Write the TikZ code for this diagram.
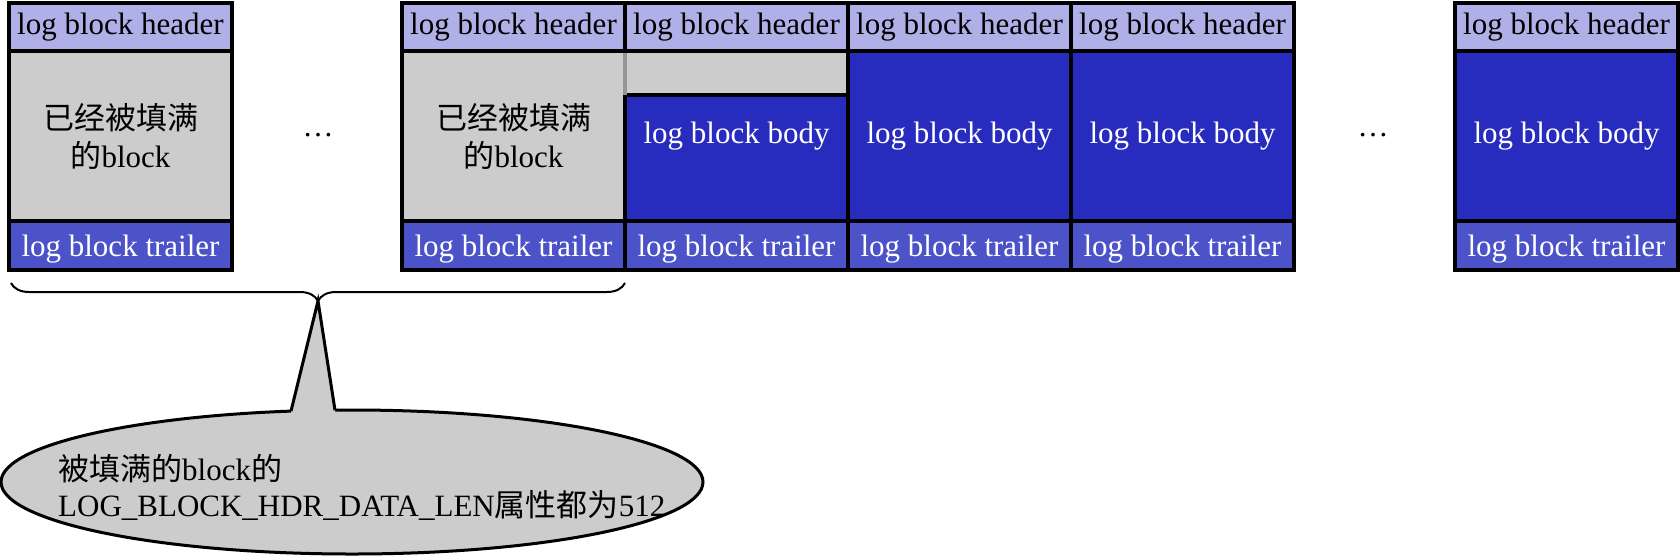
\documentclass[tikz,border=0pt]{standalone}
\usepackage{fontspec}
\setmainfont{Liberation Serif}
\newfontfamily\cjk{Noto Sans CJK SC}
\usetikzlibrary{decorations.pathreplacing,calc,shapes.geometric}
\definecolor{hdrc}{RGB}{176,176,232}
\definecolor{bodyc}{RGB}{40,44,190}
\definecolor{trlc}{RGB}{76,82,200}
\definecolor{grayc}{RGB}{204,204,204}
\definecolor{edgec}{RGB}{150,150,150}
\begin{document}
\begin{tikzpicture}[x=1pt,y=-1pt,
 cell/.style={draw=black, line width=3.5pt, inner sep=0pt, outer sep=0pt, minimum width=223pt, anchor=north west, font=\fontsize{31}{38}\selectfont, align=center},
 hdr/.style={cell, fill=hdrc, minimum height=48pt, text=black},
 bdy/.style={cell, fill=bodyc, minimum height=170pt, text=white},
 trl/.style={cell, fill=trlc, minimum height=49pt, text=white, text height=28pt, text depth=7pt},
 fullb/.style={cell, fill=grayc, minimum height=170pt, text=black},
 gtop/.style={cell, fill=grayc, minimum height=44pt},
 dots/.style={font=\fontsize{31}{36}\selectfont, anchor=base, inner sep=0pt},
 brc/.style={decorate, decoration={brace, mirror, amplitude=18pt}, line width=2pt},
 note/.style={font=\fontsize{31}{36}\selectfont, align=left, anchor=west, inner sep=0pt},
]
\useasboundingbox (0,0) rectangle (1680,558);
% bodies
\node[fullb] (b1) at (9,51) {{\cjk 已经被填满}\\{\cjk 的}block};
\node[fullb] (b2) at (402,51) {{\cjk 已经被填满}\\{\cjk 的}block};
\node[bdy] (b3) at (625,51) {log block body};
\node[gtop] (g3) at (625,51) {};
\draw[edgec, line width=3.5pt] (g3.north west) -- (g3.south west);
\node[bdy] (b4) at (848,51) {log block body};
\node[bdy] (b5) at (1071,51) {log block body};
\node[bdy] (b6) at (1455,51) {log block body};
% headers
\foreach \n/\x in {1/9,2/402,3/625,4/848,5/1071,6/1455}{
  \node[hdr] (h\n) at (\x,3) {log block header};
  \node[trl] (t\n) at (\x,221) {log block trailer};
}
% dots
\node[dots] (d1) at (318,136) {…};
\node[dots] (d2) at (1373,136) {…};
% brace
\coordinate (bl) at ($(t1.south west)+(2,13)$);
\coordinate (br) at ($(t2.south east)+(0,13)$);
\draw[brc] (bl) -- (br);
\coordinate (tip) at (318,301);
% callout
\node[ellipse, draw=black, fill=grayc, line width=3pt, minimum width=702pt, minimum height=144pt, inner sep=0pt] (call) at (352,482) {};
\coordinate (tl) at (291,411.1);
\coordinate (tr) at (335,410.1);
\fill[grayc] ($(tl)+(0,10)$) -- (tl) -- (tip) -- (tr) -- ($(tr)+(0,10)$) -- cycle;
\draw[line width=3pt, line join=miter] (tl) -- (tip) -- (tr);
\node[note] (txt) at (58,487) {{\cjk 被填满的}block{\cjk 的}\\LOG\_BLOCK\_HDR\_DATA\_LEN{\cjk 属性都为}512};
\end{tikzpicture}
\end{document}
